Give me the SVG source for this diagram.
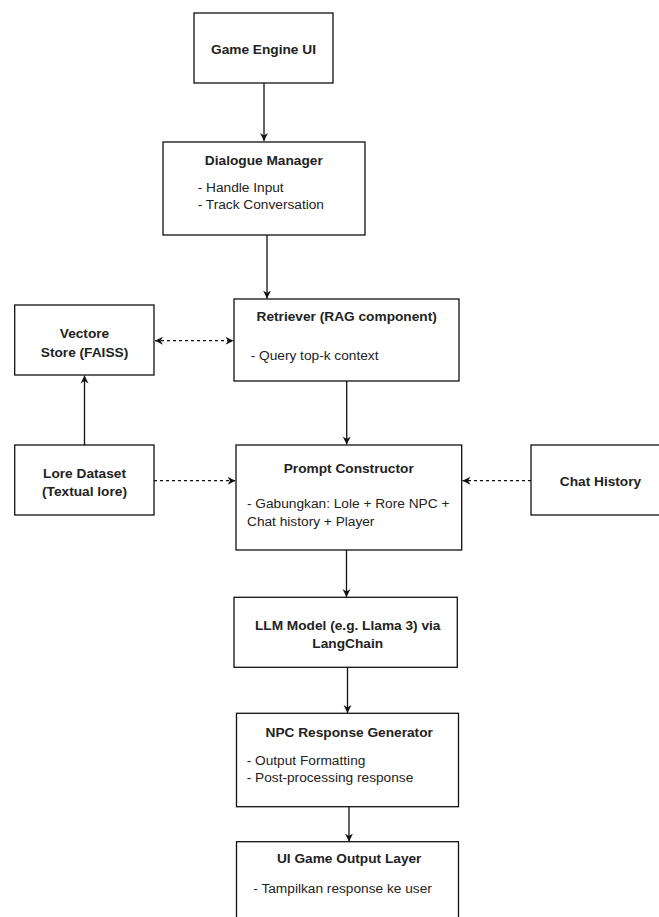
<svg xmlns="http://www.w3.org/2000/svg" width="659" height="917" viewBox="0 0 659 917">
<style>
.box{fill:#fff;stroke:#111;stroke-width:1.3}
.t{font-family:"Liberation Sans",Arial,sans-serif;font-size:13.7px;fill:#222}
.b{font-weight:bold;text-anchor:middle}
.c{text-anchor:middle}
.ln{stroke:#111;stroke-width:1.3;fill:none}
.d{stroke-dasharray:3 3}
</style>
<defs>
<marker id="ah" markerWidth="10" markerHeight="10" refX="8" refY="5" orient="auto-start-reverse" markerUnits="userSpaceOnUse">
<path d="M0,1 L8,5 L0,9 L2.5,5 Z" fill="#111"/>
</marker>
</defs>
<rect width="659" height="917" fill="#fff"/>
<g id="connectors">
<line class="ln" x1="264" y1="83" x2="264" y2="141" marker-end="url(#ah)"/>
<line class="ln" x1="267" y1="235" x2="267" y2="298.5" marker-end="url(#ah)"/>
<line class="ln d" x1="155" y1="340.7" x2="233.5" y2="340.7" marker-start="url(#ah)" marker-end="url(#ah)"/>
<line class="ln" x1="84.5" y1="445" x2="84.5" y2="375.5" marker-end="url(#ah)"/>
<line class="ln" x1="346.7" y1="381" x2="346.7" y2="444.5" marker-end="url(#ah)"/>
<line class="ln d" x1="154" y1="480.7" x2="235.5" y2="480.7" marker-end="url(#ah)"/>
<line class="ln d" x1="531" y1="480.7" x2="462.5" y2="480.7" marker-end="url(#ah)"/>
<line class="ln" x1="346.5" y1="550" x2="346.5" y2="597" marker-end="url(#ah)"/>
<line class="ln" x1="347.5" y1="667" x2="347.5" y2="713" marker-end="url(#ah)"/>
<line class="ln" x1="349" y1="807" x2="349" y2="841.5" marker-end="url(#ah)"/>
</g>
<g id="game-engine-ui">
<rect class="box" x="194" y="13" width="139" height="70"/>
<text class="t b" x="263.5" y="54">Game Engine UI</text>
</g>
<g id="dialogue-manager">
<rect class="box" x="163" y="142" width="202" height="93"/>
<text class="t b" x="263.8" y="165">Dialogue Manager</text>
<text class="t" x="197.7" y="191.5">- Handle Input</text>
<text class="t" x="197.7" y="208.8">- Track Conversation</text>
</g>
<g id="vectore-store">
<rect class="box" x="14.7" y="305" width="139.3" height="70"/>
<text class="t b" x="84.5" y="337.5">Vectore</text>
<text class="t b" x="84.5" y="356.5">Store (FAISS)</text>
</g>
<g id="retriever">
<rect class="box" x="234" y="299" width="225" height="82"/>
<text class="t b" x="346.7" y="321">Retriever (RAG component)</text>
<text class="t" x="250.7" y="360">- Query top-k context</text>
</g>
<g id="lore-dataset">
<rect class="box" x="14.7" y="445" width="139.3" height="70"/>
<text class="t b" x="84.5" y="477.5">Lore Dataset</text>
<text class="t b" x="84.5" y="495.5">(Textual lore)</text>
</g>
<g id="prompt-constructor">
<rect class="box" x="236" y="445" width="225.7" height="105"/>
<text class="t b" x="348.7" y="473">Prompt Constructor</text>
<text class="t" x="247" y="508">- Gabungkan: Lole + Rore NPC +</text>
<text class="t" x="247" y="526">Chat history + Player</text>
</g>
<g id="chat-history">
<rect class="box" x="531" y="445" width="140" height="70"/>
<text class="t b" x="600.5" y="485.5">Chat History</text>
</g>
<g id="llm-model">
<rect class="box" x="234" y="597.3" width="223.3" height="70"/>
<text class="t b" x="347.7" y="629.5">LLM Model (e.g. Llama 3) via</text>
<text class="t b" x="347.7" y="647.5">LangChain</text>
</g>
<g id="npc-response-generator">
<rect class="box" x="236.5" y="713.3" width="222" height="93.4"/>
<text class="t b" x="349.2" y="736.5">NPC Response Generator</text>
<text class="t" x="246.7" y="764.8">- Output Formatting</text>
<text class="t" x="246.7" y="781.8">- Post-processing response</text>
</g>
<g id="ui-game-output-layer">
<rect class="box" x="236.5" y="841.7" width="222" height="100"/>
<text class="t b" x="349.2" y="863">UI Game Output Layer</text>
<text class="t" x="253.3" y="893">- Tampilkan response ke user</text>
</g>
</svg>
